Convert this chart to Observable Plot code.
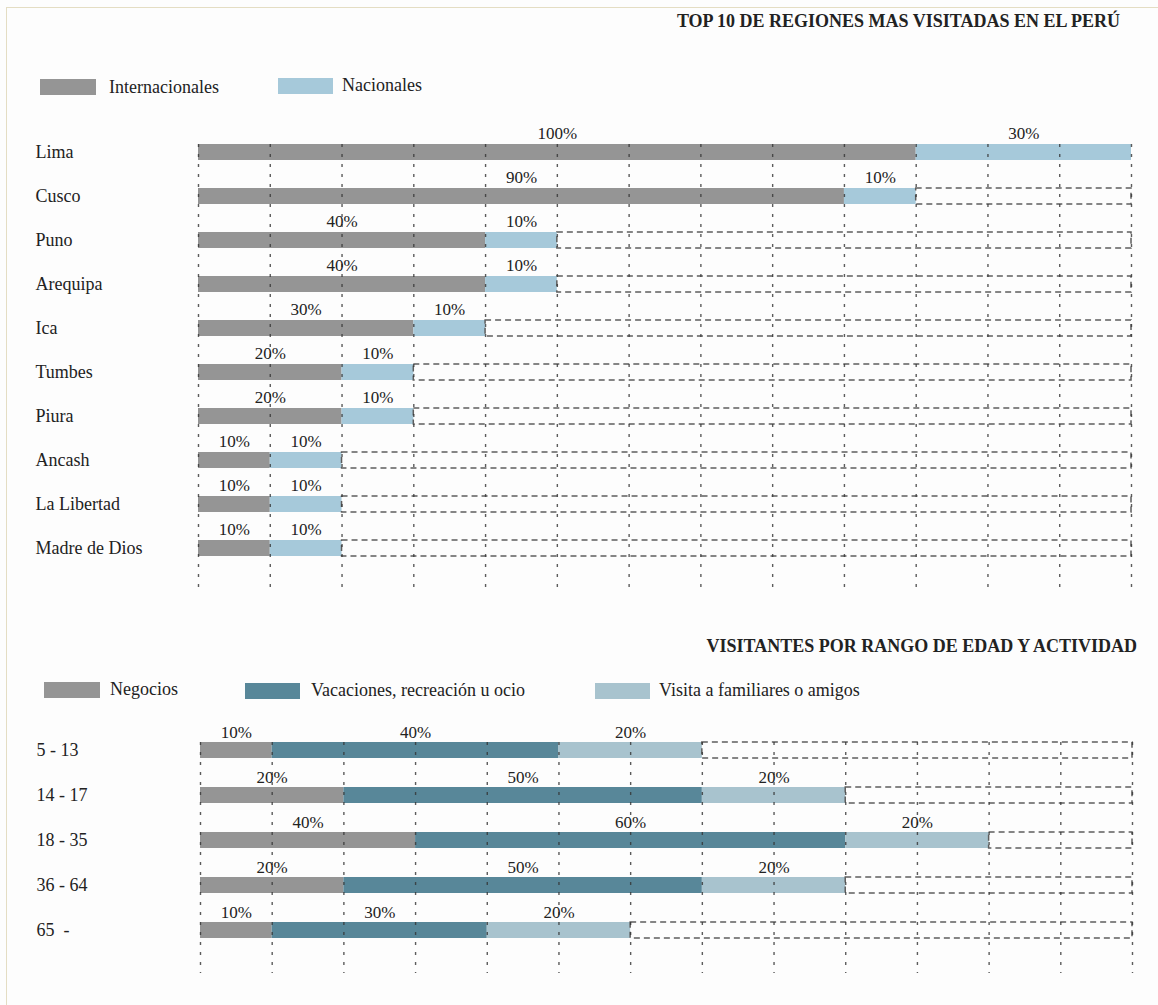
<!DOCTYPE html>
<html>
<head>
<meta charset="utf-8">
<script src="https://cdn.jsdelivr.net/npm/d3@7"></script>
<script src="https://cdn.jsdelivr.net/npm/@observablehq/plot@0.6"></script>
<style>
  body { margin: 0; background: #fdfdfd; }
  #page { position: relative; width: 1158px; height: 1005px; background: #fdfdfd; overflow: hidden;
          font-family: "Liberation Serif", "Times New Roman", serif; color: #222; }
  .frame { position: absolute; left: 6px; top: 7px; width: 1160px; height: 1010px;
           border-top: 1.5px solid #e4ddc3; border-left: 1.5px solid #e4ddc3; }
  .title { position: absolute; font-weight: bold; font-size: 18px; line-height: 1; white-space: nowrap; }
  .sw { position: absolute; height: 16px; }
  .lt { position: absolute; font-size: 18px; line-height: 1; white-space: nowrap; }
  .chart { position: absolute; left: 0; }
</style>
</head>
<body>
<div id="page">
  <div class="frame"></div>
  <div class="title" id="t1" style="right:38px;top:12px;"></div>
  <div id="leg1"></div>
  <div class="chart" id="c1" style="top:0px;"></div>
  <div class="title" id="t2" style="right:21px;top:637px;"></div>
  <div id="leg2"></div>
  <div class="chart" id="c2" style="top:620px;"></div>
</div>
<script>
// ---------- DATA ----------
const title1 = "TOP 10 DE REGIONES MAS VISITADAS EN EL PERÚ";
const seriesTop = ["Internacionales", "Nacionales"];
const regions = ["Lima", "Cusco", "Puno", "Arequipa", "Ica", "Tumbes", "Piura", "Ancash", "La Libertad", "Madre de Dios"];
const internacionales = [100, 90, 40, 40, 30, 20, 20, 10, 10, 10];
const nacionales = [30, 10, 10, 10, 10, 10, 10, 10, 10, 10];

const title2 = "VISITANTES POR RANGO DE EDAD Y ACTIVIDAD";
const seriesBottom = ["Negocios", "Vacaciones, recreación u ocio", "Visita a familiares o amigos"];
const ages = ["5 - 13", "14 - 17", "18 - 35", "36 - 64", "65 \u00a0-"];
const negocios = [10, 20, 30, 20, 10];            // drawn bar lengths
const negociosLabels = ["10%", "20%", "40%", "20%", "10%"]; // printed labels
const vacaciones = [40, 50, 60, 50, 30];
const visita = [20, 20, 20, 20, 20];

const gridTicks = [0, 10, 20, 30, 40, 50, 60, 70, 80, 90, 100, 110, 120, 130];

// ---------- STYLES ----------
const colorsTop = ["#959595", "#a6c9da"];
const colorsBottom = ["#959595", "#588799", "#a8c3ce"];

// titles
document.getElementById("t1").textContent = title1;
document.getElementById("t2").textContent = title2;

// legends
function legend(container, names, colors, boxes, texts) {
  const el = document.getElementById(container);
  names.forEach((n, i) => {
    const s = document.createElement("div");
    s.className = "sw";
    s.style.left = boxes[i][0] + "px"; s.style.top = boxes[i][1] + "px";
    s.style.width = boxes[i][2] + "px"; s.style.background = colors[i];
    el.appendChild(s);
    const t = document.createElement("div");
    t.className = "lt";
    t.style.left = texts[i][0] + "px"; t.style.top = texts[i][1] + "px";
    t.textContent = n;
    el.appendChild(t);
  });
}
legend("leg1", seriesTop, colorsTop, [[40, 79, 56], [278, 78, 55]], [[109, 78], [342, 76]]);
legend("leg2", seriesBottom, colorsBottom, [[44, 682, 56], [245, 683, 55], [595, 683, 55]], [[110, 680], [311, 681], [659, 681]]);

// ---------- TABLES ----------
const topData = [];
regions.forEach((r, i) => {
  topData.push({cat: r, type: seriesTop[0], value: internacionales[i], label: internacionales[i] + "%"});
  topData.push({cat: r, type: seriesTop[1], value: nacionales[i], label: nacionales[i] + "%"});
});
const topTotals = regions.map((r, i) => ({cat: r, total: internacionales[i] + nacionales[i]}));

const bottomData = [];
ages.forEach((a, i) => {
  bottomData.push({cat: a, type: seriesBottom[0], value: negocios[i], label: negociosLabels[i]});
  bottomData.push({cat: a, type: seriesBottom[1], value: vacaciones[i], label: vacaciones[i] + "%"});
  bottomData.push({cat: a, type: seriesBottom[2], value: visita[i], label: visita[i] + "%"});
});
const bottomTotals = ages.map((a, i) => ({cat: a, total: negocios[i] + vacaciones[i] + visita[i]}));

const xMax = gridTicks[gridTicks.length - 1];

function chart({data, totals, cats, series, colors, height, marginTop, marginBottom, marginLeft, marginRight, paddingInner, paddingOuter, labelDx, labelDy}) {
  return Plot.plot({
    width: 1158,
    height,
    marginTop, marginBottom, marginLeft, marginRight,
    style: {background: "transparent", fontFamily: "Liberation Serif, Times New Roman, serif", fontSize: "18px", color: "#222", overflow: "visible"},
    x: {domain: [0, xMax], axis: null},
    y: {domain: cats, paddingInner, paddingOuter, align: 0, axis: null},
    color: {domain: series, range: colors},
    marks: [
      Plot.barX(data, {x: "value", y: "cat", fill: "type"}),
      Plot.rect(totals.filter(d => d.total < xMax), {
        x1: "total", x2: xMax, y: "cat",
        fill: "none", stroke: "#5e5e5e", strokeWidth: 1.5, strokeDasharray: "6,4"
      }),
      Plot.gridX(gridTicks, {stroke: "#333", strokeOpacity: 0.8, strokeWidth: 1.4, strokeDasharray: "3,7"}),
      Plot.axisY({tickSize: 0, tickPadding: 0, textAnchor: "start", dx: labelDx, fontSize: 18, label: null}),
      Plot.text(data, Plot.stackX({x: "value", y: "cat", z: "type", text: "label", dy: labelDy, fontSize: 17, lineAnchor: "middle", fill: "#222"}))
    ]
  });
}

document.getElementById("c1").appendChild(chart({
  data: topData, totals: topTotals, cats: regions, series: seriesTop, colors: colorsTop,
  height: 610, marginTop: 144, marginBottom: 17, marginLeft: 198, marginRight: 27,
  paddingInner: 0.642, paddingOuter: 0.346, labelDx: -163, labelDy: -19
}));

document.getElementById("c2").appendChild(chart({
  data: bottomData, totals: bottomTotals, cats: ages, series: seriesBottom, colors: colorsBottom,
  height: 385, marginTop: 122, marginBottom: 32, marginLeft: 200, marginRight: 26,
  paddingInner: 0.639, paddingOuter: 0.347, labelDx: -164, labelDy: -18
}));
</script>
</body>
</html>
